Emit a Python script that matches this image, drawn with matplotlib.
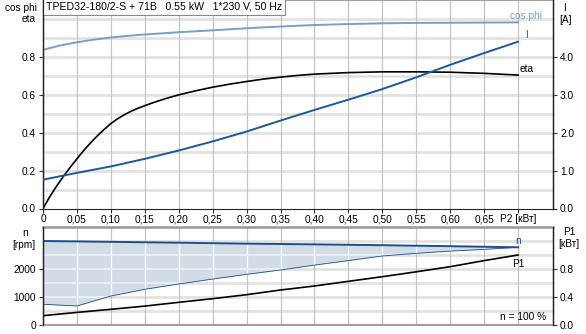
import matplotlib
matplotlib.use("Agg")
import matplotlib.pyplot as plt
import numpy as np

plt.rcParams['font.family'] = ['Liberation Sans', 'DejaVu Sans']

# ---- data ----
p2 = [0.0, 0.05, 0.10, 0.15, 0.20, 0.25, 0.30, 0.35, 0.40, 0.45, 0.50, 0.55, 0.60, 0.65, 0.70]
cos_x = [0.0, 0.025, 0.05, 0.075, 0.10, 0.125, 0.15, 0.20, 0.25, 0.30, 0.35, 0.40, 0.45, 0.50, 0.55, 0.60, 0.65, 0.70]
cos_phi = [0.837, 0.860, 0.877, 0.891, 0.902, 0.911, 0.918, 0.930, 0.940, 0.951, 0.960, 0.968, 0.973, 0.977, 0.979, 0.980, 0.981, 0.982]
eta_x = [0.0, 0.01, 0.02, 0.03, 0.04, 0.05, 0.06, 0.07, 0.08, 0.09, 0.10, 0.11, 0.12, 0.13, 0.14, 0.15,
         0.16, 0.17, 0.18, 0.19, 0.20, 0.225, 0.25, 0.275, 0.30, 0.325, 0.35, 0.375, 0.40, 0.45, 0.50,
         0.55, 0.60, 0.65, 0.70]
eta_y = [0.0, 0.062, 0.118, 0.169, 0.217, 0.262, 0.306, 0.346, 0.383, 0.417, 0.448, 0.4735, 0.495,
         0.5135, 0.529, 0.5425, 0.5555, 0.5675, 0.579, 0.5895, 0.5995, 0.621, 0.640, 0.656, 0.670,
         0.683, 0.693, 0.702, 0.709, 0.717, 0.721, 0.721, 0.719, 0.713, 0.704]
current = [0.76, 0.94, 1.11, 1.31, 1.53, 1.77, 2.03, 2.32, 2.60, 2.87, 3.15, 3.46, 3.79, 4.10, 4.40]

n_speed = [3000, 2985, 2970, 2955, 2940, 2922, 2905, 2893, 2880, 2865, 2850, 2832, 2815, 2795, 2775]
n_min = [740, 680, 1035, 1275, 1465, 1640, 1810, 1965, 2140, 2300, 2465, 2560, 2640, 2700, 2775]
p1 = [0.133, 0.180, 0.224, 0.270, 0.324, 0.376, 0.433, 0.500, 0.557, 0.624, 0.690, 0.760, 0.833, 0.920, 1.000]

x_ticks = [0, 0.05, 0.10, 0.15, 0.20, 0.25, 0.30, 0.35, 0.40, 0.45, 0.50, 0.55, 0.60, 0.65, 0.70]
x_labels = ['0', '0,05', '0,10', '0,15', '0,20', '0,25', '0,30', '0,35', '0,40', '0,45', '0,50',
            '0,55', '0,60', '0,65', 'P2 [кВт]']
title = 'TPED32-180/2-S + 71B   0.55 kW   1*230 V, 50 Hz'

# ---- styles ----
C_COS = '#7b9ec3'
C_I = '#1e5896'
C_N = '#1d4f8c'
C_FILL = '#d1dce7'
VGRID = '#c4c4c4'
HGRID = '#e2e2e2'
FS = 7.3

fig = plt.figure(figsize=(5.86, 3.34), dpi=100)
W, H = 586, 334
L, R = 43, 553
ax1 = fig.add_axes([L / W, 1 - 208.5 / H, (R - L) / W, 208.5 / H])
ax2 = fig.add_axes([L / W, 1 - 325 / H, (R - L) / W, (325 - 227) / H])


def style(ax, ylim, yticks, ylabels, hgrid):
    ax.set_xlim(0, 0.7515)
    ax.set_ylim(*ylim)
    for x in x_ticks:
        ax.axvline(x, color=VGRID, lw=0.9, zorder=0.3)
    for y in hgrid:
        ax.axhline(y, color=HGRID, lw=2.0, zorder=0.2)
    ax.set_yticks(yticks)
    ax.set_yticklabels(ylabels, fontsize=FS)
    ax.tick_params(axis='y', length=3, width=0.8, pad=2, color='#333333')
    for s in ['left', 'right']:
        ax.spines[s].set_color('#222222')
        ax.spines[s].set_linewidth(1.0)


# ---- top axes ----
style(ax1, (0, 1.1), [0, 0.2, 0.4, 0.6, 0.8], ['0.0', '0.2', '0.4', '0.6', '0.8'],
      np.arange(0.1, 1.05, 0.1))
ax1.set_xticks(x_ticks)
ax1.set_xticklabels(x_labels, fontsize=FS)
ax1.tick_params(axis='x', length=3, width=0.8, pad=1, color='#333333')
ax1.spines['bottom'].set_color('#222222')
ax1.spines['top'].set_color('#a0a0a0')

ax1r = ax1.twinx()
ax1r.set_ylim(0, 5.5)
ax1r.set_yticks([0, 1, 2, 3, 4])
ax1r.set_yticklabels(['0.0', '1.0', '2.0', '3.0', '4.0'], fontsize=FS)
ax1r.tick_params(axis='y', length=3, width=0.8, pad=2, color='#333333')
for s in ['left', 'right']:
    ax1r.spines[s].set_color('#222222')
ax1r.spines['top'].set_visible(False)
ax1r.spines['bottom'].set_visible(False)

ax1.plot(cos_x, cos_phi, color=C_COS, lw=1.4, zorder=3)
ax1.plot(eta_x, eta_y, color='black', lw=1.2, zorder=3)
ax1r.plot(p2, current, color=C_I, lw=1.4, zorder=3)

ax1.text(0.712, 1.016, 'cos phi', color=C_COS, fontsize=FS, ha='center', va='center')
ax1.text(0.712, 0.915, 'I', color=C_I, fontsize=FS, ha='center', va='center')
ax1.text(0.712, 0.735, 'eta', color='black', fontsize=FS, ha='center', va='center')

fig.text(37 / W, 1 - 8 / H, 'cos phi', fontsize=FS, ha='right', va='center')
fig.text(29 / W, 1 - 19 / H, 'eta', fontsize=FS, ha='center', va='center')
fig.text(564 / W, 1 - 8 / H, 'I', fontsize=FS, ha='center', va='center')
fig.text(565 / W, 1 - 20 / H, '[A]', fontsize=FS, ha='center', va='center')

ax1.text(0.006, 0.992, title, transform=ax1.transAxes, fontsize=7.6, ha='left', va='top', zorder=10,
         bbox=dict(boxstyle='square,pad=0.3', fc='white', ec='#888888', lw=0.8))

# ---- bottom axes ----
style(ax2, (0, 3500), [0, 1000, 2000], ['0', '1000', '2000'], np.arange(500, 3500, 500))
ax2.set_xticks([])
ax2.spines['top'].set_color('#a0a0a0')
ax2.spines['top'].set_linewidth(2.0)
ax2.spines['bottom'].set_color('#a0a0a0')
ax2.spines['bottom'].set_linewidth(1.5)

poly = ax2.fill_between(p2, n_min, n_speed, color=C_FILL, lw=0, zorder=0.5)
clip_path = poly.get_paths()[0]
for x in x_ticks:
    ln = ax2.axvline(x, color='white', lw=0.9, zorder=0.6)
    ln.set_clip_path(clip_path, poly.get_transform())
for y in np.arange(500, 3500, 500):
    ln = ax2.axhline(y, color='#e8eef4', lw=1.5, zorder=0.6)
    ln.set_clip_path(clip_path, poly.get_transform())
ax2.plot(p2, n_min, color=C_N, lw=0.6, zorder=2)
ax2.plot(p2, n_speed, color=C_N, lw=1.4, zorder=3)

ax2r = ax2.twinx()
ax2r.set_ylim(0, 1.4)
ax2r.set_yticks([0, 0.4, 0.8])
ax2r.set_yticklabels(['0.0', '0.4', '0.8'], fontsize=FS)
ax2r.tick_params(axis='y', length=3, width=0.8, pad=2, color='#333333')
for s in ['left', 'right']:
    ax2r.spines[s].set_color('#222222')
ax2r.spines['top'].set_visible(False)
ax2r.spines['bottom'].set_visible(False)
ax2r.plot(p2, p1, color='black', lw=1.2, zorder=3)

ax2.text(0.70, 2830, 'n', color=C_N, fontsize=FS, ha='center', va='bottom')
ax2r.text(0.70, 0.94, 'P1', color='black', fontsize=FS, ha='center', va='top')
ax2.text(0.742, 120, 'n = 100 %', fontsize=FS, ha='right', va='bottom')

fig.text(25 / W, 1 - 233 / H, 'n', fontsize=FS, ha='center', va='center')
fig.text(24 / W, 1 - 245 / H, '[rpm]', fontsize=FS, ha='center', va='center')
fig.text(569 / W, 1 - 232 / H, 'P1', fontsize=FS, ha='center', va='center')
fig.text(569 / W, 1 - 244 / H, '[кВт]', fontsize=FS, ha='center', va='center')

fig.savefig('out.png', dpi=100)
